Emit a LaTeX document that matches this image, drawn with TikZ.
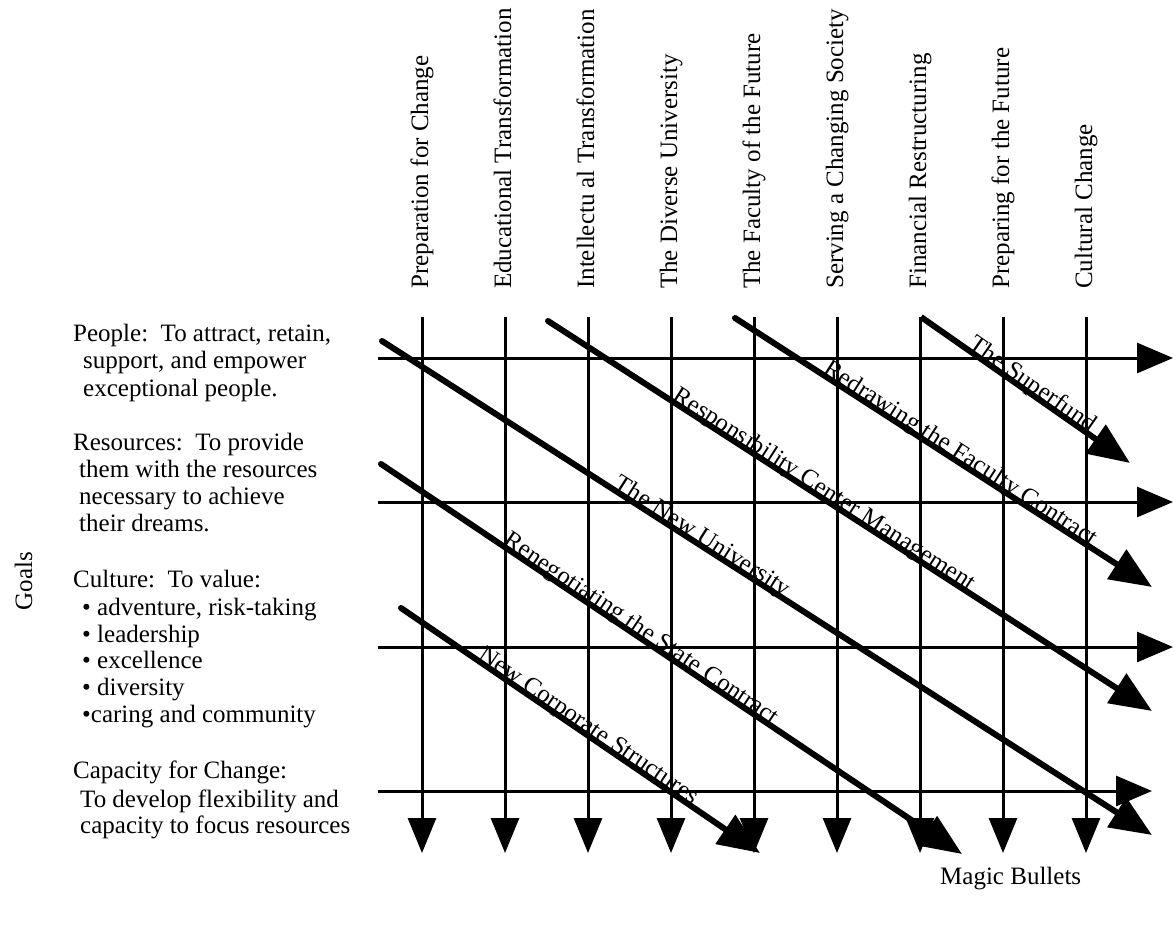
\documentclass[tikz,border=0pt]{standalone}
\usepackage{fontspec}
\setmainfont{Liberation Serif}
\usetikzlibrary{arrows.meta}
\begin{document}
\begin{tikzpicture}[x=1pt,y=-1pt,
  every node/.style={font=\fontsize{25}{27}\selectfont, inner sep=0pt},
  gridv/.style={line width=3pt, -{Triangle[length=35pt,width=28pt]}},
  gridh/.style={line width=3pt, -{Triangle[length=36pt,width=30pt]}},
  bullet/.style={line width=6pt, line cap=round, -{Triangle[length=42pt,width=34pt]}},
  collabel/.style={rotate=90, anchor=base west},
  goal/.style={anchor=base west},
  mblabel/.style={sloped, anchor=base, yshift=1.5pt}]
\useasboundingbox (0,0) rectangle (1175,925);

% column labels (strategic themes)
\foreach \i/\t in {0/Preparation for Change,1/Educational Transformation,2/Intellectu al Transformation,3/The Diverse University,4/The Faculty of the Future,5/Serving a Changing Society,6/Financial Restructuring,7/Preparing for the Future,8/Cultural Change}{
  \coordinate (vt\i) at (422+83*\i,317);
  \coordinate (vb\i) at (422+83*\i,853);
  \node[collabel] (col\i) at (428+83*\i,289) {\t};
}

% horizontal goal rows
\coordinate (h1s) at (378,358); \coordinate (h1e) at (1173,358);
\coordinate (h2s) at (378,502); \coordinate (h2e) at (1173,502);
\coordinate (h3s) at (378,647); \coordinate (h3e) at (1173,647);
\coordinate (h4s) at (378,791); \coordinate (h4e) at (1152,791);

\foreach \i in {0,...,8}{ \draw[gridv] (vt\i) -- (vb\i); }
\foreach \i in {1,...,4}{ \draw[gridh] (h\i s) -- (h\i e); }

% magic bullets (diagonals)
\coordinate (d1s) at (921,317);  \coordinate (d1e) at (1130,463);
\coordinate (d2s) at (735,318);  \coordinate (d2e) at (1152,587);
\coordinate (d3s) at (548,321);  \coordinate (d3e) at (1152,711);
\coordinate (d4s) at (382,341);  \coordinate (d4e) at (1152,835);
\coordinate (d5s) at (381,464);  \coordinate (d5e) at (962,854);
\coordinate (d6s) at (401,608);  \coordinate (d6e) at (760,853);

\draw[line width=6pt, -{Triangle[length=42pt,width=34pt]}] (d1s) -- node[mblabel, pos=0.51] (m1) {The Superfund} (d1e);
\draw[bullet] (d2s) -- node[mblabel, pos=0.53] (m2) {Redrawing the Faculty Contract} (d2e);
\draw[bullet] (d3s) -- node[mblabel, pos=0.45] (m3) {Responsibility Center Management} (d3e);
\draw[bullet] (d4s) -- node[mblabel, pos=0.41] (m4) {The New University} (d4e);
\draw[bullet] (d5s) -- node[mblabel, pos=0.44] (m5) {Renegotiating the State Contract} (d5e);
\draw[bullet] (d6s) -- node[mblabel, pos=0.51] (m6) {New Corporate Structures} (d6e);

% goals text
\node[goal] (g1a) at (73,341) {People:\ \ To attract, retain,};
\node[goal] (g1b) at (83,368) {support, and empower};
\node[goal] (g1c) at (83,396) {exceptional people.};
\node[goal] (g2a) at (73,450) {Resources:\ \ To provide};
\node[goal] (g2b) at (79,477) {them with the resources};
\node[goal] (g2c) at (79,504) {necessary to achieve};
\node[goal] (g2d) at (79,531) {their dreams.};
\node[goal] (g3a) at (73,587) {Culture:\ \ To value:};
\node[goal] (g3b) at (82,615) {\textbullet\ adventure, risk-taking};
\node[goal] (g3c) at (82,642) {\textbullet\ leadership};
\node[goal] (g3d) at (82,668) {\textbullet\ excellence};
\node[goal] (g3e) at (82,695) {\textbullet\ diversity};
\node[goal] (g3f) at (82,722) {\textbullet caring and community};
\node[goal] (g4a) at (73,778) {Capacity for Change:};
\node[goal] (g4b) at (80,807) {To develop flexibility and};
\node[goal] (g4c) at (80,833) {capacity to focus resources};

\node[rotate=90, anchor=base] (goals) at (32,581) {Goals};
\node[anchor=base west] (magic) at (940,884) {Magic Bullets};
\end{tikzpicture}
\end{document}
